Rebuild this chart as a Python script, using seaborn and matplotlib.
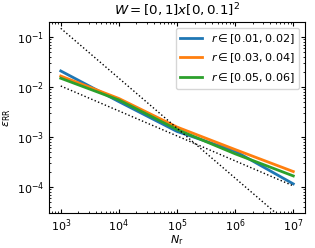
import numpy as np
import pandas as pd
import matplotlib
matplotlib.use("Agg")
import matplotlib.pyplot as plt
import seaborn as sns

# Data
n_r = [1e3, 1e4, 1e5, 1e6, 1e7]
err_r1 = [0.021, 5.1e-3, 1.29e-3, 5.2e-4, 1.15e-4]
err_r2 = [0.0166, 5.9e-3, 1.58e-3, 5.6e-4, 2.03e-4]
err_r3 = [0.015, 5.5e-3, 1.41e-3, 4.6e-4, 1.66e-4]
labels = [r"$r\in[0.01,0.02]$", r"$r\in[0.03,0.04]$", r"$r\in[0.05,0.06]$"]

# reference slopes (dotted)
ref_x = [1e3, 1e7]
ref_steep = [0.15, 1.5e-5]
ref_shallow = [0.0105, 1.05e-4]

df = pd.DataFrame({
    "N": n_r * 3,
    "err": err_r1 + err_r2 + err_r3,
    "r": [labels[0]] * 5 + [labels[1]] * 5 + [labels[2]] * 5,
})

plt.rcParams["font.size"] = 8

fig, ax = plt.subplots(figsize=(3.15, 2.48), dpi=100)
fig.subplots_adjust(left=0.156, right=0.968, top=0.911, bottom=0.141)

sns.lineplot(data=df, x="N", y="err", hue="r", palette="tab10",
             linewidth=2, ax=ax)
ax.plot(ref_x, ref_steep, ls=":", color="black", lw=1)
ax.plot(ref_x, ref_shallow, ls=":", color="black", lw=1)

ax.set_xscale("log")
ax.set_yscale("log")
ax.set_xlim(10**2.8, 10**7.2)
ax.set_ylim(3.0e-5, 0.2)
ax.tick_params(which="both", direction="in", top=True, right=True)
ax.tick_params(which="major", length=3)
ax.tick_params(which="minor", length=1.5)
ax.set_xlabel(r"$N_{\rm r}$", labelpad=-1)
ax.set_ylabel(r"$\epsilon_{\rm RR}$", labelpad=3)
ax.set_title(r"$W=[0,1]x[0,0.1]^2$", pad=5)
ax.legend(loc="upper right", title=None)

plt.savefig("out.png", dpi=100)
